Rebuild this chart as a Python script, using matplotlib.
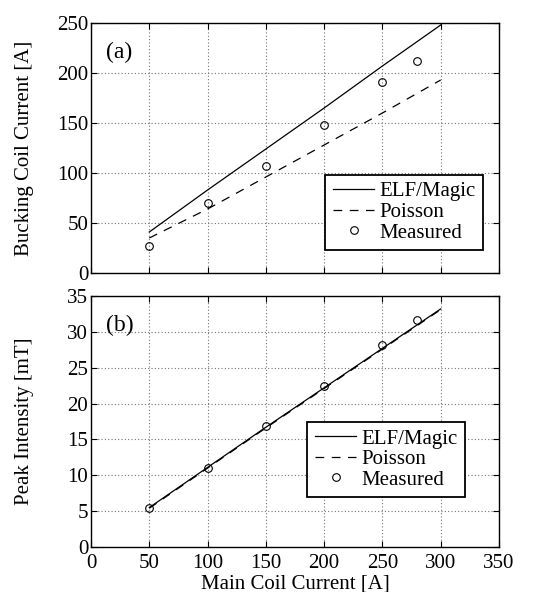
import numpy as np
import matplotlib
matplotlib.use('Agg')
import matplotlib.pyplot as plt

plt.rcParams['font.family'] = ['Liberation Serif', 'DejaVu Serif']

# Datos
corriente_modelo = [50, 100, 150, 200, 250, 300]
corriente_medida = [50, 100, 150, 200, 250, 280]

# (a) corriente de la bobina de compensacion [A]
bucking_elf = [41, 83, 124, 165, 207, 248]
bucking_poisson = [35, 64, 96, 128, 160, 193]
bucking_medido = [27, 70, 107, 148, 191, 212]

# (b) intensidad de pico [mT]
pico_elf = [5.5, 11.1, 16.7, 22.2, 27.7, 33.2]
pico_poisson = [5.4, 11.0, 16.6, 22.1, 27.6, 33.1]
pico_medido = [5.4, 11.0, 16.9, 22.5, 28.2, 31.6]

fig = plt.figure(figsize=(5.33, 5.92), dpi=100)
ax1 = fig.add_axes([91/533, 1 - 273/592, 408/533, 250/592])
ax2 = fig.add_axes([91/533, 1 - 547/592, 408/533, 251/592])

fs = 15


def estilo(ax, ymax, ystep, ylabel, letra):
    ax.set_xlim(0, 350)
    ax.set_ylim(0, ymax)
    ax.set_xticks(np.arange(0, 351, 50))
    ax.set_yticks(np.arange(0, ymax + 0.01, ystep))
    ax.grid(True, linestyle=(0, (1, 2)), color='0.45', linewidth=0.8)
    ax.tick_params(direction='in', length=4, labelsize=fs, width=0.8,
                   top=True, right=True)
    ax.tick_params(axis='y', pad=2)
    ax.tick_params(axis='x', pad=5)
    for s in ax.spines.values():
        s.set_linewidth(1.0)
    ax.set_ylabel(ylabel, fontsize=fs)
    ax.yaxis.set_label_coords(-0.14, 0.5)
    ax.text(0.037, 0.925, letra, transform=ax.transAxes, fontsize=fs + 2,
            va='top', ha='left')


def leyenda(ax, ancla):
    leg = ax.legend(loc='lower right', bbox_to_anchor=ancla, fontsize=fs,
                    frameon=True, fancybox=False, edgecolor='k', framealpha=1,
                    handlelength=2.0, borderpad=0.35, labelspacing=0.05,
                    handletextpad=0.25, borderaxespad=0)
    leg.get_frame().set_linewidth(1.3)


ax1.plot(corriente_modelo, bucking_elf, 'k-', lw=0.9, label='ELF/Magic')
ax1.plot(corriente_modelo, bucking_poisson, 'k--', lw=0.9, dashes=(7, 6), label='Poisson')
ax1.plot(corriente_medida, bucking_medido, 'ko', mfc='none', ms=5.5, mew=0.8,
         label='Measured', linestyle='none')
estilo(ax1, 250, 50, 'Bucking Coil Current [A]', '(a)')
ax1.set_xticklabels([])
leyenda(ax1, (0.961, 0.092))

ax2.plot(corriente_modelo, pico_elf, 'k-', lw=0.9, label='ELF/Magic')
ax2.plot(corriente_modelo, pico_poisson, 'k--', lw=0.9, dashes=(7, 6), label='Poisson')
ax2.plot(corriente_medida, pico_medido, 'ko', mfc='none', ms=5.5, mew=0.8,
         label='Measured', linestyle='none')
estilo(ax2, 35, 5, 'Peak Intensity [mT]', '(b)')
ax2.set_xlabel('Main Coil Current [A]', fontsize=fs, labelpad=1)
leyenda(ax2, (0.917, 0.199))

fig.savefig('out.png', dpi=100)
